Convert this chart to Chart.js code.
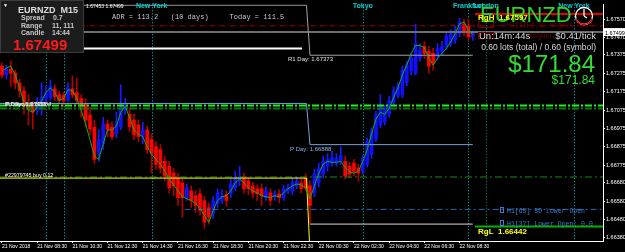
<!DOCTYPE html>
<html>
<head>
<meta charset="utf-8">
<script src="https://cdn.jsdelivr.net/npm/chart.js@4.4.0/dist/chart.umd.min.js"></script>
<style>
  html, body { margin: 0; padding: 0; background: #000; }
  #wrap { width: 625px; height: 252px; }
</style>
</head>
<body>
<div id="wrap"><canvas id="fxChart" width="625" height="252"></canvas></div>
<script>
// EURNZD M15, bars from 21 Nov 06:30 to 22 Nov 09:15 (bar index = position on the x axis)
const opens = [
  1.67314, 1.67266, 1.67298, 1.67276, 1.67223, 1.67180, 1.67116, 1.67095, 1.67074, 1.67116,
  1.67138, 1.67143, 1.67191, 1.67159, 1.67154, 1.67132, 1.67191, 1.67170, 1.67138, 1.67106,
  1.67047, 1.66983, 1.66839, 1.66892, 1.66999, 1.66983, 1.66946, 1.66983, 1.67074, 1.67052,
  1.67020, 1.66994, 1.66930, 1.66967, 1.66914, 1.66876, 1.66860, 1.66796, 1.66770, 1.66732,
  1.66705, 1.66679, 1.66599, 1.66636, 1.66609, 1.66620, 1.66583, 1.66545, 1.66513, 1.66567,
  1.66583, 1.66615, 1.66620, 1.66652, 1.66690, 1.66705, 1.66690, 1.66663, 1.66647, 1.66647,
  1.66599, 1.66625, 1.66604, 1.66620, 1.66599, 1.66636, 1.66636, 1.66663, 1.66679, 1.66705,
  1.66663, 1.66625, 1.66679, 1.66727, 1.66770, 1.66786, 1.66786, 1.66796, 1.66796, 1.66770,
  1.66786, 1.66759, 1.66743, 1.66780, 1.66834, 1.66919, 1.66994, 1.67010, 1.67052, 1.67116,
  1.67154, 1.67159, 1.67223, 1.67287, 1.67276, 1.67357, 1.67421, 1.67394, 1.67383, 1.67367,
  1.67394, 1.67421, 1.67437, 1.67453, 1.67490, 1.67543, 1.67533, 1.67474
];
const highs = [
  1.67330, 1.67319, 1.67341, 1.67292, 1.67244, 1.67202, 1.67159, 1.67122, 1.67143, 1.67223,
  1.67207, 1.67239, 1.67212, 1.67180, 1.67170, 1.67223, 1.67260, 1.67250, 1.67159, 1.67138,
  1.67090, 1.67020, 1.66967, 1.67036, 1.67020, 1.67010, 1.67063, 1.67212, 1.67138, 1.67090,
  1.67052, 1.67020, 1.67010, 1.66988, 1.66946, 1.66903, 1.66887, 1.66823, 1.66796, 1.66759,
  1.66732, 1.66700, 1.66673, 1.66663, 1.66636, 1.66647, 1.66604, 1.66572, 1.66604, 1.66647,
  1.66642, 1.66636, 1.66700, 1.66743, 1.66770, 1.66732, 1.66711, 1.66684, 1.66668, 1.66673,
  1.66658, 1.66647, 1.66636, 1.66642, 1.66668, 1.66673, 1.66705, 1.66711, 1.66700, 1.66727,
  1.66690, 1.66754, 1.66786, 1.66823, 1.66839, 1.66850, 1.66839, 1.66876, 1.66823, 1.66791,
  1.66807, 1.66780, 1.66828, 1.66924, 1.66978, 1.67068, 1.67159, 1.67100, 1.67148, 1.67202,
  1.67223, 1.67314, 1.67341, 1.67383, 1.67543, 1.67437, 1.67447, 1.67421, 1.67410, 1.67437,
  1.67447, 1.67501, 1.67511, 1.67533, 1.67575, 1.67570, 1.67570, 1.67506
];
const lows = [
  1.67250, 1.67244, 1.67202, 1.67191, 1.67143, 1.67052, 1.66994, 1.66972, 1.67052, 1.67047,
  1.67116, 1.67127, 1.67127, 1.67106, 1.67095, 1.67122, 1.67143, 1.67106, 1.67036, 1.66983,
  1.66940, 1.66786, 1.66796, 1.66860, 1.66930, 1.66914, 1.66924, 1.66967, 1.67052, 1.66956,
  1.66914, 1.66903, 1.66892, 1.66839, 1.66732, 1.66754, 1.66732, 1.66690, 1.66625, 1.66609,
  1.66556, 1.66492, 1.66583, 1.66545, 1.66519, 1.66503, 1.66433, 1.66455, 1.66487, 1.66545,
  1.66567, 1.66551, 1.66599, 1.66636, 1.66663, 1.66625, 1.66615, 1.66599, 1.66583, 1.66556,
  1.66583, 1.66556, 1.66583, 1.66572, 1.66583, 1.66620, 1.66615, 1.66647, 1.66625, 1.66636,
  1.66460, 1.66604, 1.66658, 1.66705, 1.66743, 1.66770, 1.66770, 1.66780, 1.66700, 1.66705,
  1.66716, 1.66690, 1.66727, 1.66764, 1.66812, 1.66903, 1.66978, 1.66994, 1.67036, 1.67095,
  1.67138, 1.67143, 1.67207, 1.67266, 1.67266, 1.67341, 1.67357, 1.67276, 1.67292, 1.67346,
  1.67373, 1.67405, 1.67421, 1.67437, 1.67474, 1.67479, 1.67453, 1.67453
];
const closes = [
  1.67266, 1.67298, 1.67276, 1.67223, 1.67180, 1.67100, 1.67079, 1.67063, 1.67116, 1.67143,
  1.67170, 1.67202, 1.67148, 1.67127, 1.67127, 1.67196, 1.67159, 1.67127, 1.67095, 1.67020,
  1.66972, 1.66807, 1.66914, 1.66999, 1.66967, 1.66930, 1.66999, 1.67090, 1.67095, 1.66983,
  1.66940, 1.66930, 1.66967, 1.66860, 1.66839, 1.66780, 1.66759, 1.66716, 1.66652, 1.66663,
  1.66599, 1.66599, 1.66652, 1.66583, 1.66556, 1.66529, 1.66465, 1.66492, 1.66583, 1.66625,
  1.66609, 1.66583, 1.66673, 1.66700, 1.66716, 1.66647, 1.66647, 1.66625, 1.66620, 1.66609,
  1.66636, 1.66583, 1.66620, 1.66599, 1.66647, 1.66652, 1.66679, 1.66690, 1.66647, 1.66652,
  1.66556, 1.66727, 1.66759, 1.66796, 1.66807, 1.66818, 1.66812, 1.66828, 1.66716, 1.66727,
  1.66743, 1.66732, 1.66812, 1.66903, 1.66956, 1.67047, 1.67100, 1.67079, 1.67127, 1.67180,
  1.67207, 1.67292, 1.67319, 1.67357, 1.67437, 1.67399, 1.67383, 1.67314, 1.67330, 1.67410,
  1.67421, 1.67479, 1.67490, 1.67506, 1.67554, 1.67501, 1.67474, 1.67499
];
// green moving average drawn over the candles
const maLine = [
  1.67287, 1.67303, 1.67314, 1.67266, 1.67196, 1.67116, 1.67074, 1.67063, 1.67090, 1.67127,
  1.67170, 1.67196, 1.67170, 1.67127, 1.67138, 1.67186, 1.67180, 1.67138, 1.67074, 1.66999,
  1.66914, 1.66823, 1.66807, 1.66892, 1.66967, 1.66967, 1.66988, 1.67063, 1.67095, 1.67036,
  1.66967, 1.66946, 1.66930, 1.66876, 1.66834, 1.66807, 1.66780, 1.66743, 1.66700, 1.66668,
  1.66636, 1.66604, 1.66593, 1.66583, 1.66567, 1.66540, 1.66503, 1.66465, 1.66529, 1.66583,
  1.66604, 1.66609, 1.66636, 1.66679, 1.66700, 1.66679, 1.66652, 1.66636, 1.66625, 1.66609,
  1.66604, 1.66599, 1.66609, 1.66604, 1.66625, 1.66647, 1.66663, 1.66673, 1.66668, 1.66652,
  1.66593, 1.66663, 1.66732, 1.66780, 1.66796, 1.66791, 1.66791, 1.66796, 1.66764, 1.66738,
  1.66732, 1.66743, 1.66796, 1.66860, 1.66946, 1.67026, 1.67063, 1.67052, 1.67084, 1.67143,
  1.67196, 1.67266, 1.67319, 1.67383, 1.67426, 1.67426, 1.67415, 1.67357, 1.67319, 1.67357,
  1.67383, 1.67410, 1.67447, 1.67490, 1.67543, 1.67554, 1.67511, 1.67485
];

// axis ticks
const timeTickIdx = [0, 8, 16, 24, 32, 40, 48, 56, 64, 72, 80, 88, 96, 104];
const timeTickLabels = ['21 Nov 2018', '21 Nov 08:30', '21 Nov 10:30', '21 Nov 12:30', '21 Nov 14:30',
  '21 Nov 16:30', '21 Nov 18:30', '21 Nov 20:30', '21 Nov 22:30', '22 Nov 00:30', '22 Nov 02:30',
  '22 Nov 04:30', '22 Nov 06:30', '22 Nov 08:30'];
const priceTicks = [1.66380, 1.66480, 1.66580, 1.66680, 1.66775, 1.66875, 1.66975, 1.67075,
  1.67175, 1.67275, 1.67375, 1.67470, 1.67570];
const priceTickLabels = ['1.66380', '1.66480', '1.66580', '1.66680', '1.66775', '1.66875', '1.66975',
  '1.67075', '1.67175', '1.67275', '1.67375', '1.67470', '1.67570'];

// session opens (bar index) and their names
const sessionIdx = [10, 14, 34, 82, 106, 110, 130];
const sessionNames = ['Frankfurt', 'London', 'New York', 'Tokyo', 'Frankfurt', 'London', 'New York'];
const sessionColors = ['#00c8c8', '#00c8c8', '#00c8c8', '#00c8c8', '#00c8c8', '#00a07a', '#00c8c8'];

// price levels
const bidPrice = 1.67499;
const redDashLevel = 1.67533;
const rangeHigh = 1.67597;
const rangeLow = 1.66442;
const greenDashLevels = [1.67100, 1.67084];
const lowGreenDash = 1.66711;
const lowerOpen5D = 1.66535;
const prevDayLine = 1.67410;
const s1Day = 1.66455;
// daily pivot steps: last bar of 21 Nov -> first bar of 22 Nov
const dayEdge = [-0.5, 69.2, 70, 107];
const pivotR = [1.67645, 1.67645, 1.67373, 1.67373];
const pivotP = [1.67111, 1.67111, 1.66887, 1.66887];
const pivotS = [1.66705, 1.66705, 1.66300, 1.66300];

const X_MIN = -0.4545, X_MAX = 136.6;
const Y_MIN = 1.66363, Y_MAX = 1.67650;
const FONT = 'Liberation Sans, Arial, sans-serif';

function flat(x0, x1, v) { return [{x: x0, y: v}, {x: x1, y: v}]; }
function steps(xs, ys) { return xs.map((x, i) => ({x: x, y: ys[i]})); }

function lineSet(data, color, width, dash, order) {
  return {
    type: 'line', data: data, borderColor: color, borderWidth: width,
    borderDash: dash || [], pointRadius: 0, tension: 0, order: order || 10
  };
}

const isUp = closes.map((c, i) => c >= opens[i]);

const overlay = {
  id: 'overlay',
  beforeDraw(chart) {
    const ctx = chart.ctx;
    ctx.save();
    ctx.fillStyle = '#000';
    ctx.fillRect(0, 0, chart.width, chart.height);
    ctx.restore();
  },
  beforeDatasetsDraw(chart) {
    const ctx = chart.ctx, area = chart.chartArea, xs = chart.scales.x;
    ctx.save();
    ctx.lineWidth = 1;
    ctx.setLineDash([1, 2]);
    sessionIdx.forEach((idx, i) => {
      const x = Math.round(xs.getPixelForValue(idx)) + 0.5;
      ctx.strokeStyle = sessionColors[i];
      ctx.beginPath();
      ctx.moveTo(x, area.top);
      ctx.lineTo(x, area.bottom);
      ctx.stroke();
    });
    ctx.restore();
  },
  afterDraw(chart) {
    const ctx = chart.ctx, xs = chart.scales.x, ys = chart.scales.y;
    const txt = (s, x, y, font, color, align) => {
      ctx.font = font;
      ctx.fillStyle = color;
      ctx.textAlign = align || 'left';
      ctx.fillText(s, x, y);
    };
    ctx.save();
    ctx.textBaseline = 'alphabetic';

    // session names
    sessionIdx.forEach((idx, i) => {
      txt(sessionNames[i], xs.getPixelForValue(idx), 8, 'bold 7px ' + FONT, '#00d0d0', 'center');
    });

    txt('1.67453 1.67499', 86, 8, '5px ' + FONT, '#ffffff');
    txt('ADR = 113.2   (10 days)     Today = 111.5', 112, 19, '7px Liberation Mono, monospace', '#c8c8c8');

    // level labels
    txt('R1 Day: ' + pivotR[2].toFixed(5), 288, ys.getPixelForValue(pivotR[2]) + 6, '6px ' + FONT, '#e0e0e0');
    txt('P Day: 1.66888', 290, ys.getPixelForValue(pivotP[2]) + 6, '6px ' + FONT, '#8cb4e8');
    txt('#22979745 buy 0.12', 5, ys.getPixelForValue(pivotS[0]) - 1, '5.3px ' + FONT, '#ffffff');
    txt('P Day: 1.67111', 5, ys.getPixelForValue(pivotP[0]) + 3, 'bold 6px ' + FONT, '#f0f0f0');
    txt('S1 Day: 1.67084', 6, ys.getPixelForValue(pivotP[0]) + 3, 'bold 6px ' + FONT, '#d0d0d0');

    // dim labels behind the range box
    ctx.strokeStyle = '#7a0000';
    ctx.lineWidth = 1;
    ctx.strokeRect(478.5, 21.5, 15, 6);
    txt('H1[125] 5D Higher Open', 507, 27, '6.5px Liberation Mono, monospace', '#6e0000');
    ctx.strokeRect(478.5, 32.5, 15, 6);
    txt('Higher', 530, 38, '6.5px Liberation Mono, monospace', '#6e0000');

    // symbol watermark, clock
    txt('EURNZD', 480, 22, '22px ' + FONT, '#2fd22f');
    ctx.strokeStyle = '#ffffff';
    ctx.lineWidth = 1.3;
    ctx.beginPath(); ctx.arc(584, 16, 8.5, 0, Math.PI * 2); ctx.stroke();
    ctx.beginPath(); ctx.moveTo(584, 16); ctx.lineTo(584, 9); ctx.stroke();
    ctx.beginPath(); ctx.moveTo(584, 16); ctx.lineTo(587, 18); ctx.stroke();
    ctx.strokeStyle = '#d00000';
    ctx.beginPath(); ctx.arc(584, 16, 8.5, 0.3, Math.PI - 0.3); ctx.stroke();

    // range labels
    txt('RgH  ' + rangeHigh.toFixed(5), 478, 20, 'bold 8px ' + FONT, '#ffff00');
    txt('RgL  ' + rangeLow.toFixed(5), 478, 234, 'bold 8px ' + FONT, '#ffff00');

    // trade panel
    txt('Un:14m:44s', 479, 39, '9.5px ' + FONT, '#d8d8d8');
    txt('$0.41/tick', 596, 39, '9.5px ' + FONT, '#d8d8d8', 'right');
    txt('0.60 lots (total) / 0.60 (symbol)', 596, 50, '8.5px ' + FONT, '#d8d8d8', 'right');
    txt('$171.84', 595, 72, '24px ' + FONT, '#33dd33', 'right');
    txt('$171.84', 595, 84, '12px ' + FONT, '#33dd33', 'right');

    // lower open labels
    ctx.strokeStyle = '#3a7fd5';
    ctx.lineWidth = 1;
    ctx.strokeRect(500.5, 207.5, 3, 5);
    ctx.strokeRect(500.5, 220.5, 3, 5);
    txt('H1[65] 5D Lower Open', 507, 213, '6.5px Liberation Mono, monospace', '#3a7fd5');
    txt('H1[37] Lower Open: 0.0', 507, 226, '6.5px Liberation Mono, monospace', '#3a7fd5');

    // info box
    ctx.fillStyle = '#1c1c1c';
    ctx.fillRect(0, 0, 84, 53);
    ctx.strokeStyle = '#3c3c3c';
    ctx.strokeRect(0.5, 0.5, 83, 52);
    txt('\u25BC', 3, 7, '5px ' + FONT, '#ffffff');
    txt('EURNZD  M15', 18, 13, 'bold 9px ' + FONT, '#dcdcdc');
    txt('Spread', 21, 20, 'bold 7px ' + FONT, '#c8c8c8');
    txt('0.7', 53, 20, 'bold 7px ' + FONT, '#c8c8c8');
    txt('Range', 21, 27.5, 'bold 7px ' + FONT, '#c8c8c8');
    txt('11, 111', 52, 27.5, 'bold 7px ' + FONT, '#c8c8c8');
    txt('Candle', 21, 35, 'bold 7px ' + FONT, '#c8c8c8');
    txt('14:44', 52, 35, 'bold 7px ' + FONT, '#c8c8c8');
    txt(bidPrice.toFixed(5), 13, 50, 'bold 15px ' + FONT, '#ff1a1a');

    // current price tag on the axis
    const by = ys.getPixelForValue(bidPrice);
    ctx.fillStyle = '#ffffff';
    ctx.fillRect(604, by - 4, 21, 8);
    txt(bidPrice.toFixed(5), 605, by + 2.5, '5.5px ' + FONT, '#000000');
    ctx.restore();
  }
};

new Chart(document.getElementById('fxChart'), {
  type: 'bar',
  data: {
    datasets: [
      // wicks
      {
        data: lows.map((l, i) => ({x: i, y: [l, highs[i]]})),
        backgroundColor: isUp.map(u => u ? '#1a1aff' : '#b00000'),
        barThickness: 1, grouped: false, order: 30, borderWidth: 0
      },
      // bodies
      {
        data: opens.map((o, i) => ({x: i, y: [o, closes[i]]})),
        backgroundColor: isUp.map(u => u ? '#1010ff' : '#ff0000'),
        barThickness: 3, grouped: false, order: 29, borderWidth: 0, minBarLength: 1
      },
      lineSet(flat(X_MIN, X_MAX, redDashLevel), '#a00000', 1, [5, 2, 1, 2], 12),
      lineSet(flat(X_MIN, X_MAX, bidPrice), '#6e6e6e', 2, [], 12),
      lineSet(flat(X_MIN, X_MAX, greenDashLevels[0]), '#22ee22', 2, [7, 2, 2, 2], 11),
      lineSet(flat(X_MIN, X_MAX, greenDashLevels[1]), '#0a7a0a', 2, [7, 2, 2, 2], 11),
      lineSet(flat(X_MIN, X_MAX, lowGreenDash), '#1a8a1a', 1, [7, 3, 2, 3], 11),
      lineSet(flat(41.5, X_MAX, lowerOpen5D), '#2a66b0', 1, [6, 3, 2, 3], 11),
      lineSet(flat(107.5, X_MAX, rangeHigh), '#e00000', 2, [], 11),
      lineSet(flat(107.5, X_MAX, rangeLow), '#00b400', 2, [], 11),
      lineSet(flat(X_MIN, 68.2, prevDayLine), '#ffffff', 2, [], 10),
      lineSet(flat(70, 107, s1Day), '#d8d8d8', 1, [], 10),
      lineSet(steps(dayEdge, pivotR), '#a0a0a0', 1, [], 10),
      lineSet(steps(dayEdge, pivotP), '#7d9fd8', 1, [], 10),
      lineSet(steps(dayEdge, pivotS), '#ffff00', 1, [], 9),
      lineSet(maLine.map((v, i) => ({x: i, y: v})), '#10b010', 1, [], 5)
    ]
  },
  options: {
    responsive: false,
    animation: false,
    devicePixelRatio: 1,
    layout: { padding: 0 },
    plugins: { legend: { display: false }, tooltip: { enabled: false } },
    scales: {
      x: {
        type: 'linear', min: X_MIN, max: X_MAX, offset: false, bounds: 'data',
        grid: { drawOnChartArea: false, drawTicks: true, tickLength: 2, color: '#ffffff', offset: false },
        border: { display: true, color: '#ffffff', width: 1 },
        ticks: {
          color: '#ffffff', font: { size: 5, family: FONT }, maxRotation: 0, autoSkip: false,
          align: 'start', padding: 1,
          callback: (v, i) => timeTickLabels[i]
        },
        afterBuildTicks: scale => { scale.ticks = timeTickIdx.map(v => ({value: v})); },
        afterFit: scale => { scale.height = 11; }
      },
      y: {
        type: 'linear', position: 'right', min: Y_MIN, max: Y_MAX, beginAtZero: false, bounds: 'data',
        grid: { drawOnChartArea: false, drawTicks: true, tickLength: 2, color: '#ffffff' },
        border: { display: true, color: '#ffffff', width: 1 },
        ticks: {
          color: '#ffffff', font: { size: 5.5, family: FONT }, autoSkip: false, padding: 1,
          callback: (v, i) => priceTickLabels[i]
        },
        afterBuildTicks: scale => { scale.ticks = priceTicks.map(v => ({value: v})); },
        afterFit: scale => { scale.width = 22; }
      }
    }
  },
  plugins: [overlay]
});
</script>
</body>
</html>
